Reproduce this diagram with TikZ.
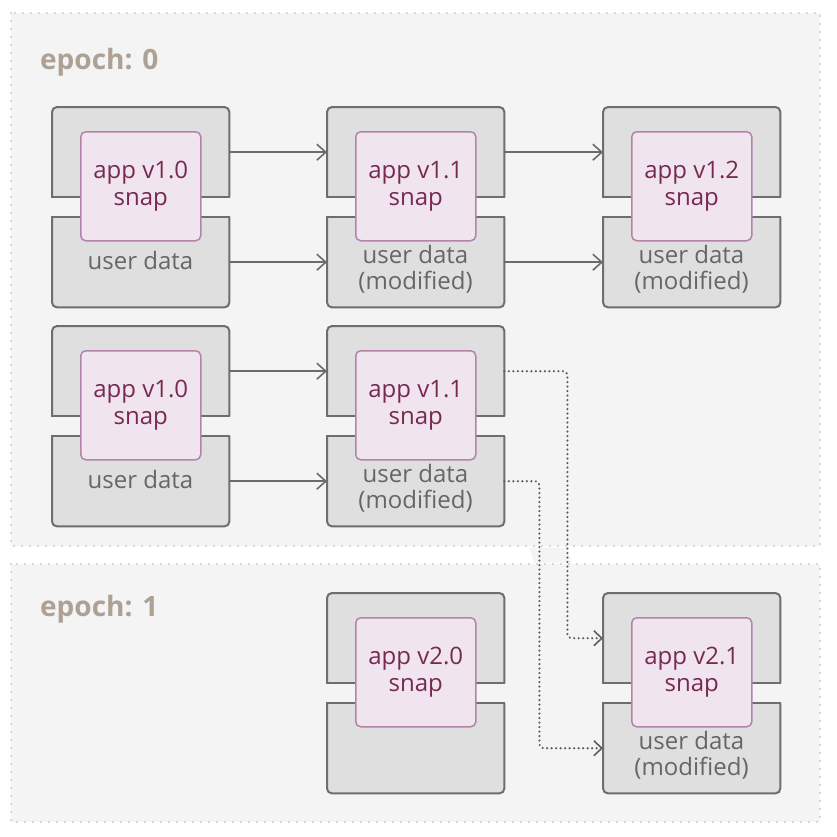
\documentclass[tikz,border=0pt]{standalone}
\usepackage{fontspec}
\setmainfont{Open Sans}
\usetikzlibrary{arrows.meta}
\definecolor{regfill}{HTML}{F4F4F4}
\definecolor{regline}{HTML}{C5D0D8}
\definecolor{boxfill}{HTML}{DFDFDF}
\definecolor{boxline}{HTML}{6E6E6E}
\definecolor{snapfill}{HTML}{F0E5EE}
\definecolor{snapline}{HTML}{B384AA}
\definecolor{snaptext}{HTML}{772953}
\definecolor{datatext}{HTML}{666666}
\definecolor{epochtext}{HTML}{ADA195}
\definecolor{arrowgray}{HTML}{6B6B6B}
\definecolor{linkgray}{HTML}{5E5E5E}
\tikzset{
  region/.style={fill=regfill, draw=regline, line width=2.2pt, line cap=round, dash pattern=on 0pt off 8pt},
  part/.style={minimum width=177pt, minimum height=90pt, inner sep=0pt, draw=none},
  boxshape/.style={fill=boxfill, draw=boxline, line width=2pt},
  snapbox/.style={draw=snapline, fill=snapfill, line width=1.5pt, rounded corners=5pt,
    minimum width=120pt, minimum height=109pt, align=center, text=snaptext,
    font=\fontsize{24}{27}\selectfont, inner sep=0pt},
  datalabel/.style={text=datatext, align=center, font=\fontsize{24}{26}\selectfont, inner sep=0pt},
  epochlabel/.style={text=epochtext, font=\fontsize{28}{32}\selectfont\bfseries, inner sep=0pt, anchor=base west},
  flow/.style={draw=arrowgray, line width=1.6pt, -{Straight Barb[length=9pt,width=16pt]}},
  link/.style={draw=linkgray, line width=2.4pt, line cap=round, dash pattern=on 0pt off 4.5pt,
    rounded corners=4pt, -{Straight Barb[length=8pt,width=15pt,line width=1.6pt]}},
}
% #1 name, #2 left x, #3 top y, #4 snap text
\newcommand\holder[4]{%
  \node[part, anchor=north west] (#1t) at (#2,#3) {};
  \node[part, anchor=north west] (#1b) at (#2,#3+110) {};
  \filldraw[boxshape, rounded corners=5pt] (#1t.south west) -- (#1t.north west) -- (#1t.north east) -- (#1t.south east);
  \draw[boxshape, line cap=rect] (#1t.south west) -- (#1t.south east);
  \filldraw[boxshape, rounded corners=5pt] (#1b.north west) -- (#1b.south west) -- (#1b.south east) -- (#1b.north east);
  \draw[boxshape, line cap=rect] (#1b.north west) -- (#1b.north east);
  \node[snapbox, anchor=north west] (#1s) at (#2+28,#3+24) {#4};
}
\begin{document}
\begin{tikzpicture}[x=1pt, y=-1pt]
\useasboundingbox (0,0) rectangle (837,836);
\fill[white] (0,0) rectangle (837,836);
% regions
\draw[region] (11,13) rectangle (820,546);
\draw[region] (11,564) rectangle (820,822);
\fill[regfill] (529,547.5) -- (566,547.5) -- (572,562.5) -- (534,562.5) -- cycle;
\node[epochlabel] (e0) at (40,69) {epoch: 0};
\node[epochlabel] (e1) at (40,616) {epoch: 1};
% holders
\holder{a}{52}{107}{app v1.0\\snap}
\holder{b}{327}{107}{app v1.1\\snap}
\holder{c}{603}{107}{app v1.2\\snap}
\holder{d}{52}{326}{app v1.0\\snap}
\holder{e}{327}{326}{app v1.1\\snap}
\holder{f}{327}{593}{app v2.0\\snap}
\holder{g}{603}{593}{app v2.1\\snap}
% user data labels
\node[datalabel] (ad) at (140.5,260) {user data};
\node[datalabel] (bd) at (415.5,269) {user data\\(modified)};
\node[datalabel] (cd) at (691.5,269) {user data\\(modified)};
\node[datalabel] (dd) at (140.5,479) {user data};
\node[datalabel] (ed) at (415.5,488) {user data\\(modified)};
\node[datalabel] (gd) at (691.5,755) {user data\\(modified)};
% solid arrows
\draw[flow] (at.east) -- (bt.west);
\draw[flow] (ab.east) -- (bb.west);
\draw[flow] (bt.east) -- (ct.west);
\draw[flow] (bb.east) -- (cb.west);
\draw[flow] (dt.east) -- (et.west);
\draw[flow] (db.east) -- (eb.west);
% dotted links
\draw[link] (et.east) -- ++(63,0) |- (gt.west);
\draw[link] (eb.east) -- ++(35,0) |- (gb.west);
\end{tikzpicture}
\end{document}
